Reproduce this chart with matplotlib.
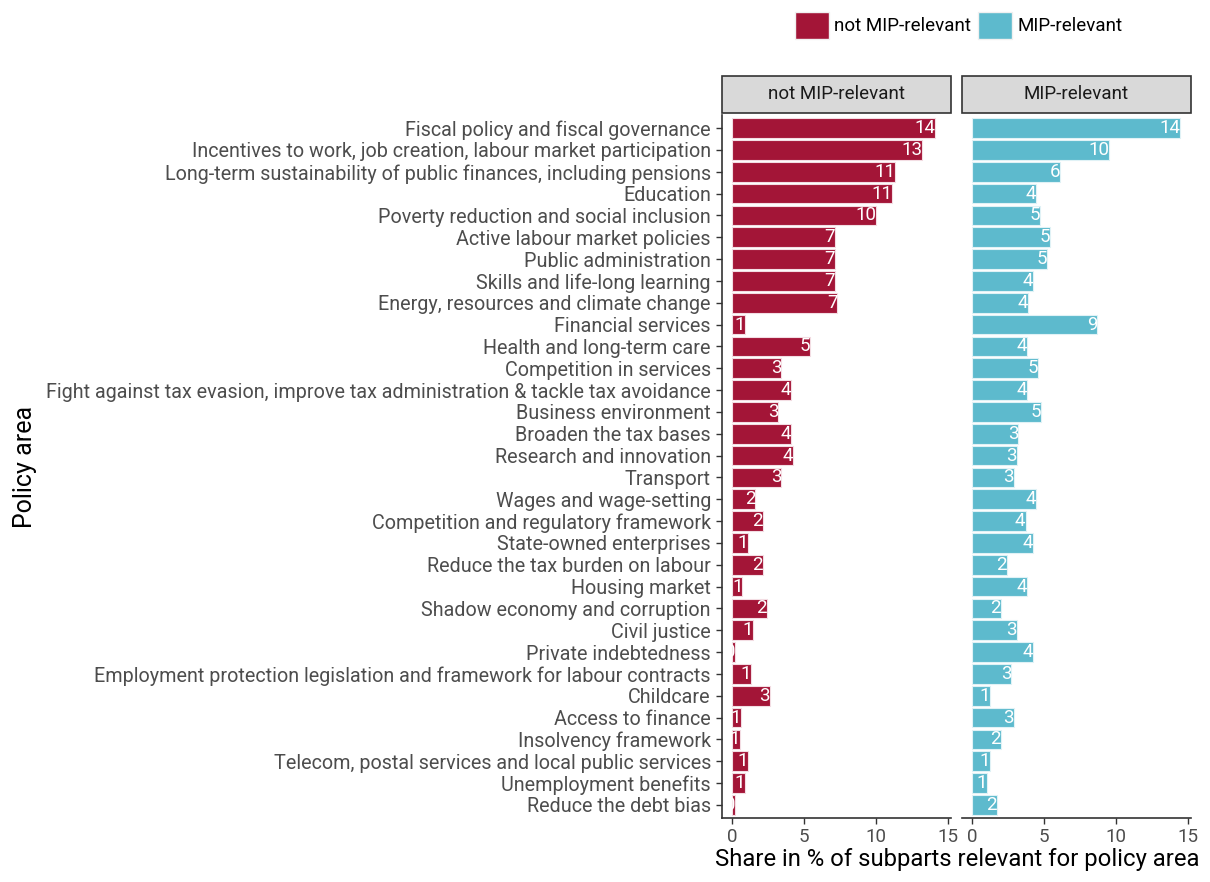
import matplotlib.pyplot as plt
import numpy as np
from matplotlib.patches import Patch, Rectangle

plt.rcParams['font.family'] = ['Roboto', 'DejaVu Sans']

# policy areas, top to bottom
areas = [
    "Fiscal policy and fiscal governance",
    "Incentives to work, job creation, labour market participation",
    "Long-term sustainability of public finances, including pensions",
    "Education",
    "Poverty reduction and social inclusion",
    "Active labour market policies",
    "Public administration",
    "Skills and life-long learning",
    "Energy, resources and climate change",
    "Financial services",
    "Health and long-term care",
    "Competition in services",
    "Fight against tax evasion, improve tax administration & tackle tax avoidance",
    "Business environment",
    "Broaden the tax bases",
    "Research and innovation",
    "Transport",
    "Wages and wage-setting",
    "Competition and regulatory framework",
    "State-owned enterprises",
    "Reduce the tax burden on labour",
    "Housing market",
    "Shadow economy and corruption",
    "Civil justice",
    "Private indebtedness",
    "Employment protection legislation and framework for labour contracts",
    "Childcare",
    "Access to finance",
    "Insolvency framework",
    "Telecom, postal services and local public services",
    "Unemployment benefits",
    "Reduce the debt bias",
]

# share in % (not MIP-relevant)
not_mip = [14.1, 13.2, 11.3, 11.1, 10.0, 7.1, 7.1, 7.1, 7.3, 0.9, 5.4,
           3.4, 4.1, 3.2, 4.1, 4.2, 3.4, 1.6, 2.1, 1.1, 2.1, 0.7,
           2.4, 1.4, 0.2, 1.3, 2.6, 0.6, 0.52, 1.1, 0.9, 0.2]

# share in % (MIP-relevant)
mip = [14.45, 9.5, 6.1, 4.4, 4.7, 5.4, 5.2, 4.2, 3.9, 8.7, 3.8,
       4.6, 3.8, 4.8, 3.2, 3.1, 2.9, 4.45, 3.7, 4.2, 2.4, 3.8,
       2.0, 3.1, 4.2, 2.7, 1.2, 2.9, 2.0, 1.2, 1.0, 1.7]

groups = ["not MIP-relevant", "MIP-relevant"]
colors = ["#a31537", "#5dbacd"]
edges = ["#f3dde3", "#e0f2f6"]

fig = plt.figure(figsize=(12.1, 8.82), dpi=100)
ax1 = fig.add_axes([0.5967, 0.0726, 0.1893, 0.797])
ax2 = fig.add_axes([0.7950, 0.0726, 0.1893, 0.797])

y = np.arange(len(areas))
for ax, vals, col, ec, name in zip([ax1, ax2], [not_mip, mip], colors, edges, groups):
    ax.barh(y, vals, height=0.9, color=col, edgecolor=ec, linewidth=0.8)
    for yi, v in zip(y, vals):
        ax.text(v, yi, str(int(v + 0.5)), color="white", ha="right", va="center",
                fontsize=13.5, clip_on=True)
    ax.set_xlim(-0.72, 15.2)
    ax.set_ylim(len(areas) - 0.4, -0.6)
    ax.set_xticks([0, 5, 10, 15])
    ax.tick_params(axis="x", colors="#333333", labelsize=13.5, length=4, width=1, labelcolor="#4d4d4d")
    for s in ["top", "right"]:
        ax.spines[s].set_visible(False)
    ax.spines["bottom"].set_color("#333333")
    ax.spines["bottom"].set_linewidth(1.2)
    # facet strip
    ax.add_patch(Rectangle((0, 1.003), 1, 0.053, transform=ax.transAxes, facecolor="#d9d9d9",
                           edgecolor="#333333", linewidth=1.2, clip_on=False))
    ax.text(0.5, 1.0295, name, transform=ax.transAxes, ha="center", va="center",
            fontsize=13.5, color="#1a1a1a")

ax1.set_yticks(y)
ax1.set_yticklabels(areas)
ax1.tick_params(axis="y", colors="#333333", labelsize=14.2, length=4, width=1, labelcolor="#4d4d4d", pad=4)
ax1.spines["left"].set_color("#333333")
ax1.spines["left"].set_linewidth(1.2)
ax1.set_ylabel("Policy area", fontsize=18)
ax1.yaxis.set_label_coords(-2.99, 0.5)

ax2.set_yticks([])
ax2.spines["left"].set_visible(False)

fig.text(0.791, 0.018, "Share in % of subparts relevant for policy area", ha="center", fontsize=17.2)

handles = [Patch(facecolor=c, edgecolor="#f0f0f0", label=g) for c, g in zip(colors, groups)]
fig.legend(handles=handles, loc="upper left", bbox_to_anchor=(0.643, 1.006), ncol=2, frameon=False,
           fontsize=13.5, handlelength=1.8, handleheight=1.9, columnspacing=0.35, handletextpad=0.3)

fig.savefig("out.png", dpi=100)
